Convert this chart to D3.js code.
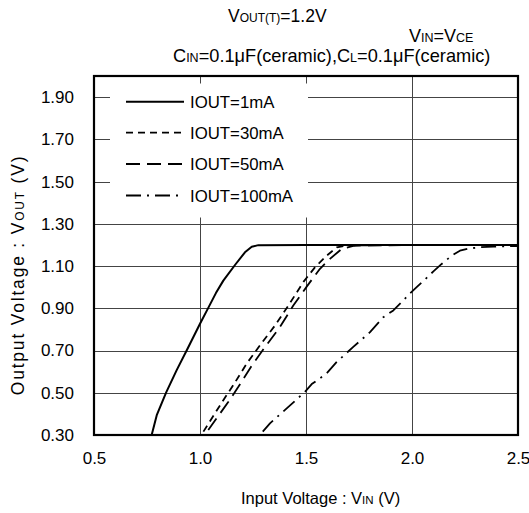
<!DOCTYPE html>
<html><head><meta charset="utf-8">
<script src="https://cdn.jsdelivr.net/npm/d3@7/dist/d3.min.js"></script>
<style>body{margin:0;background:#fff}svg{display:block}text{font-family:"Liberation Sans",Arial,sans-serif;fill:#000}</style>
</head><body>
<script>
// ---- data ----
const xTicks = [0.5, 1.0, 1.5, 2.0, 2.5];
const yTicks = [0.30, 0.50, 0.70, 0.90, 1.10, 1.30, 1.50, 1.70, 1.90];
const seriesNames = ["IOUT=1mA", "IOUT=30mA", "IOUT=50mA", "IOUT=100mA"];
const vin1 = [0.772,0.796,0.840,0.890,0.937,1.000,1.039,1.075,1.110,1.165,1.212,1.244,1.275,1.500,2.000,2.500];
const vout1 = [0.300,0.394,0.501,0.607,0.700,0.827,0.902,0.972,1.031,1.105,1.165,1.191,1.199,1.200,1.200,1.200];
const vin30 = [1.016,1.110,1.157,1.220,1.283,1.354,1.417,1.488,1.542,1.597,1.645,1.692,2.000,2.500];
const vout30 = [0.316,0.465,0.536,0.638,0.725,0.819,0.913,1.025,1.094,1.149,1.188,1.198,1.200,1.200];
const vin50 = [1.039,1.134,1.181,1.245,1.307,1.377,1.440,1.505,1.566,1.613,1.668,1.723,2.000,2.500];
const vout50 = [0.324,0.457,0.528,0.630,0.717,0.811,0.913,1.005,1.087,1.134,1.181,1.196,1.200,1.200];
const vin100 = [1.296,1.330,1.409,1.495,1.527,1.597,1.645,1.723,1.802,1.865,1.912,1.959,1.988,2.022,2.069,2.101,2.140,2.187,2.226,2.274,2.321,2.384,2.500];
const vout100 = [0.316,0.355,0.426,0.504,0.541,0.591,0.646,0.717,0.787,0.858,0.890,0.937,0.968,1.000,1.044,1.075,1.110,1.149,1.173,1.184,1.189,1.192,1.195];

const W = 529, H = 513;
const svg = d3.select("body").append("svg").attr("width", W).attr("height", H);
const x = d3.scaleLinear().domain([0.5, 2.5]).range([94, 518]);
const y = d3.scaleLinear().domain([0.3, 2.0]).range([435, 76]);

// grid
const grid = svg.append("g").attr("stroke", "#444").attr("stroke-width", 1);
grid.selectAll("line.h").data(yTicks.slice(1)).join("line")
  .attr("x1", x(0.5)).attr("x2", x(2.5)).attr("y1", d => Math.round(y(d)) + 0.5).attr("y2", d => Math.round(y(d)) + 0.5);
grid.selectAll("line.v").data(xTicks.slice(1, -1)).join("line")
  .attr("y1", y(2.0)).attr("y2", y(0.3)).attr("x1", d => Math.round(x(d)) + 0.5).attr("x2", d => Math.round(x(d)) + 0.5);

// legend background (covers grid)
svg.append("rect").attr("x", 110).attr("y", 83.5).attr("width", 198).attr("height", 134).attr("fill", "#fff");

// curves
const line = d3.line().x(d => x(d[0])).y(d => y(d[1]));
const series = [
  {vin: vin1, vout: vout1, dash: null, w: 2},
  {vin: vin30, vout: vout30, dash: "7,5", w: 1.8},
  {vin: vin50, vout: vout50, dash: "14,7", w: 1.8},
  {vin: vin100, vout: vout100, dash: "15,6,2,6", w: 1.8}
];
svg.append("defs").append("clipPath").attr("id", "clip").append("rect")
  .attr("x", x(0.5)).attr("y", y(2.0)).attr("width", x(2.5) - x(0.5)).attr("height", y(0.3) - y(2.0));
const cg = svg.append("g").attr("clip-path", "url(#clip)");
series.forEach(s => {
  cg.append("path").datum(s.vin.map((v, i) => [v, s.vout[i]]))
    .attr("d", line).attr("fill", "none").attr("stroke", "#000")
    .attr("stroke-width", s.w).attr("stroke-dasharray", s.dash).attr("stroke-linejoin", "round");
});

// frame
svg.append("rect").attr("x", x(0.5)).attr("y", y(2.0)).attr("width", x(2.5) - x(0.5)).attr("height", y(0.3) - y(2.0))
  .attr("fill", "none").attr("stroke", "#000").attr("stroke-width", 2.2);

// axes labels
const yAxis = d3.axisLeft(y).tickValues(yTicks).tickFormat(d3.format(".2f")).tickSize(0).tickPadding(20);
const ya = svg.append("g").attr("transform", `translate(${x(0.5)},0)`).call(yAxis);
ya.select(".domain").remove();
ya.selectAll("text").attr("font-size", 17).attr("font-family", "Liberation Sans, Arial, sans-serif");
const xAxis = d3.axisBottom(x).tickValues(xTicks).tickFormat(d3.format(".1f")).tickSize(0).tickPadding(17);
const xa = svg.append("g").attr("transform", `translate(0,${y(0.3)})`).call(xAxis);
xa.select(".domain").remove();
xa.selectAll("text").attr("font-size", 17).attr("font-family", "Liberation Sans, Arial, sans-serif");

// legend
const lg = svg.append("g");
const rowsY = [101.7, 132.7, 164, 195.5];
series.forEach((s, i) => {
  lg.append("line").attr("x1", 126).attr("x2", 184).attr("y1", rowsY[i]).attr("y2", rowsY[i])
    .attr("stroke", "#000").attr("stroke-width", s.w).attr("stroke-dasharray", s.dash);
  lg.append("text").attr("x", 190).attr("y", rowsY[i] + 6).attr("font-size", 16.8).text(seriesNames[i]);
});

// titles
function sub(t, parts) {
  parts.forEach(p => t.append("tspan").attr("font-size", p[1]).text(p[0]));
}
const TF = 17.5, SF = 12;
sub(svg.append("text").attr("x", 228).attr("y", 22), [["V", TF], ["OUT(T)", SF], ["=1.2V", TF]]);
sub(svg.append("text").attr("x", 409).attr("y", 42), [["V", 18], ["IN", 12.5], ["=V", 18], ["CE", 12.5]]);
sub(svg.append("text").attr("x", 173).attr("y", 62), [["C", 18.2], ["IN", 12.5], ["=0.1μF(ceramic),C", 18.2], ["L", 12.5], ["=0.1μF(ceramic)", 18.2]]);

// axis titles
const xt = svg.append("text").attr("x", 241).attr("y", 504).attr("font-family", "Noto Sans CJK JP");
sub(xt, [["Input Voltage : V", 16.5], ["IN", 11.5], [" (V)", 16.5]]);
const yt = svg.append("text").attr("transform", "translate(24,275) rotate(-90)").attr("text-anchor", "middle")
  .attr("letter-spacing", 1.8);
sub(yt, [["Output Voltage : V", 17.5], ["OUT", 12], [" (V)", 17.5]]);
</script>
</body></html>
